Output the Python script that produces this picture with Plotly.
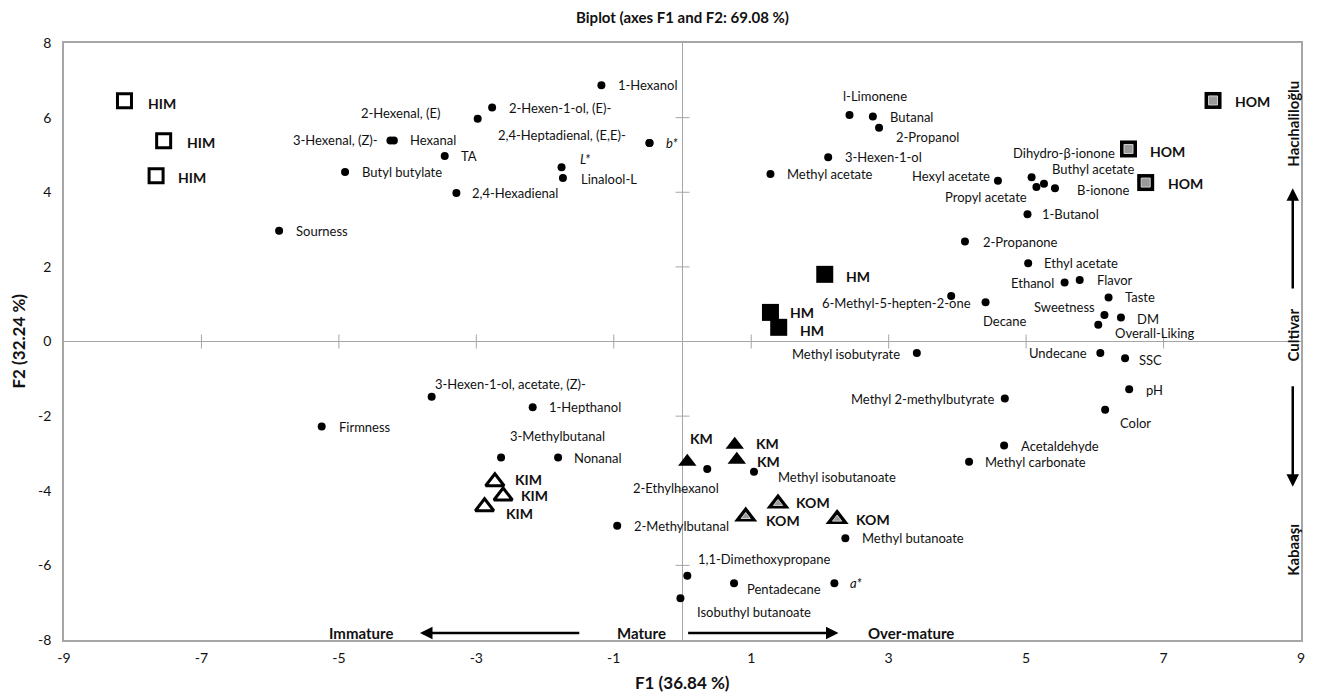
import plotly.graph_objects as go

# ---------------- data ----------------
var_names = [
    "Sourness", "Butyl butylate", "3-Hexenal, (Z)-", "Hexanal", "TA", "2,4-Hexadienal",
    "2-Hexenal, (E)", "2-Hexen-1-ol, (E)-", "1-Hexanol", "2,4-Heptadienal, (E,E)-",
    "<i>L*</i>", "Linalool-L", "<i>b*</i>", "l-Limonene", "Butanal", "2-Propanol",
    "3-Hexen-1-ol", "Methyl acetate", "Hexyl acetate", "Dihydro-β-ionone", "Propyl acetate",
    "Buthyl acetate", "B-ionone", "1-Butanol", "2-Propanone", "Ethyl acetate", "Ethanol",
    "Flavor", "Taste", "Sweetness", "DM", "Overall-Liking", "6-Methyl-5-hepten-2-one",
    "Decane", "Methyl isobutyrate", "Undecane", "SSC", "pH", "Color",
    "Methyl 2-methylbutyrate", "Acetaldehyde", "Methyl carbonate",
    "3-Hexen-1-ol, acetate, (Z)-", "1-Hepthanol", "Firmness", "3-Methylbutanal", "Nonanal",
    "2-Methylbutanal", "2-Ethylhexanol", "Methyl isobutanoate", "Methyl butanoate",
    "1,1-Dimethoxypropane", "Pentadecane", "<i>a*</i>", "Isobuthyl butanoate",
]
var_f1 = [
    -5.87, -4.91, -4.25, -4.20, -3.46, -3.29,
    -2.98, -2.77, -1.18, -0.48,
    -1.76, -1.74, -0.48, 2.43, 2.77, 2.86,
    2.12, 1.28, 4.59, 5.08, 5.15,
    5.26, 5.42, 5.02, 4.11, 5.03, 5.56,
    5.78, 6.20, 6.14, 6.38, 6.05, 3.91,
    4.41, 3.41, 6.08, 6.44, 6.50, 6.15,
    4.69, 4.68, 4.17,
    -3.65, -2.18, -5.25, -2.64, -1.81,
    -0.95, 0.36, 1.04, 2.37,
    0.07, 0.75, 2.21, -0.03,
]
var_f2 = [
    2.97, 4.54, 5.39, 5.39, 4.97, 3.98,
    5.97, 6.27, 6.87, 5.32,
    4.67, 4.38, 5.32, 6.07, 6.03, 5.73,
    4.94, 4.49, 4.31, 4.40, 4.14,
    4.23, 4.11, 3.41, 2.68, 2.10, 1.58,
    1.65, 1.18, 0.71, 0.64, 0.45, 1.22,
    1.05, -0.31, -0.31, -0.45, -1.28, -1.83,
    -1.53, -2.79, -3.22,
    -1.48, -1.76, -2.28, -3.11, -3.11,
    -4.94, -3.42, -3.49, -5.27,
    -6.28, -6.48, -6.48, -6.88,
]

him_f1 = [-8.12, -7.55, -7.66]
him_f2 = [6.45, 5.38, 4.44]
hm_f1 = [2.07, 1.28, 1.40]
hm_f2 = [1.80, 0.78, 0.38]
hom_f1 = [7.72, 6.49, 6.74]
hom_f2 = [6.46, 5.16, 4.26]
kim_f1 = [-2.73, -2.61, -2.88]
kim_f2 = [-3.76, -4.14, -4.43]
km_f1 = [0.07, 0.76, 0.79]
km_f2 = [-3.22, -2.77, -3.17]
kom_f1 = [1.39, 0.92, 2.25]
kom_f2 = [-4.34, -4.69, -4.76]

x_ticks = [-9, -7, -5, -3, -1, 1, 3, 5, 7, 9]
y_ticks = [-8, -6, -4, -2, 0, 2, 4, 6, 8]

# ---------------- label placement (anchor, dx px, dy px down) ----------------
var_label_pos = [
    ("r", 15, 0), ("r", 15, 0), ("l", -10, 0), ("r", 14, 0), ("r", 14, 0), ("r", 14, 0),
    ("l", -36, -6), ("r", 15, 0), ("r", 15, 0), ("l", -22, -8),
    ("r", 16, -8), ("r", 16, 1), ("r", 14, 0), ("c", 25, -19), ("r", 15, 0), ("r", 15, 9),
    ("r", 15, 0), ("r", 15, 0), ("l", -6, -5), ("c", 32, -24), ("l", -7, 10),
    ("r", 6, -15), ("r", 20, 2), ("r", 13, 0), ("r", 16, 0), ("r", 14, 0), ("l", -9, 0),
    ("r", 15, 0), ("r", 14, 0), ("l", -7, -8), ("r", 14, 1), ("r", 15, 8), ("l", 22, 7),
    ("r", -5, 19), ("l", -15, 1), ("l", -11, 0), ("r", 12, 2), ("r", 15, 1), ("r", 13, 13),
    ("l", -9, 0), ("r", 15, 0), ("r", 14, 0),
    ("r", 1, -13), ("r", 14, 0), ("r", 15, 0), ("r", 7, -22), ("r", 14, 0),
    ("r", 15, 0), ("l", 14, 19), ("r", 22, 5), ("r", 15, 0),
    ("r", 9, -17), ("r", 11, 6), ("r", 14, 0), ("r", 15, 14),
]
him_pos = [("r", 23, 3), ("r", 22, 2), ("r", 21, 2)]
hm_pos = [("r", 20, 2), ("r", 19, 0), ("r", 20, 3)]
hom_pos = [("r", 21, 1), ("r", 20, 3), ("r", 21, 1)]
kim_pos = [("r", 19, -2), ("r", 17, 0), ("r", 20, 7)]
km_pos = [("r", 2, -23), ("r", 20, -1), ("r", 19, 2)]
kom_pos = [("r", 17, -1), ("r", 19, 4), ("r", 18, 0)]

FONT = "Lato"
TXT = "#111111"
GRID = "#a6a6a6"
ANCH = {"r": "left", "l": "right", "c": "center"}

fig = go.Figure()

# crossing tick marks on the zero lines
fig.add_trace(go.Scatter(
    x=[v for v in x_ticks if v not in (-9, 9)], y=[0] * (len(x_ticks) - 2), mode="markers",
    marker=dict(symbol="line-ns", size=10, line=dict(color=GRID, width=1)),
    hoverinfo="skip", showlegend=False))
fig.add_trace(go.Scatter(
    x=[0] * (len(y_ticks) - 3), y=[v for v in y_ticks if v not in (-8, 0, 8)], mode="markers",
    marker=dict(symbol="line-ew", size=10, line=dict(color=GRID, width=1)),
    hoverinfo="skip", showlegend=False))

# variables
fig.add_trace(go.Scatter(x=var_f1, y=var_f2, mode="markers",
                         marker=dict(symbol="circle", size=8, color="black"),
                         showlegend=False))

# observations
fig.add_trace(go.Scatter(x=him_f1, y=him_f2, mode="markers", showlegend=False,
                         marker=dict(symbol="square-open", size=14, color="black",
                                     line=dict(color="black", width=3))))
fig.add_trace(go.Scatter(x=hm_f1, y=hm_f2, mode="markers", showlegend=False,
                         marker=dict(symbol="square", size=17, color="black")))
fig.add_trace(go.Scatter(x=hom_f1, y=hom_f2, mode="markers", showlegend=False,
                         marker=dict(symbol="square", size=17, color="black")))
fig.add_trace(go.Scatter(x=hom_f1, y=hom_f2, mode="markers", showlegend=False,
                         marker=dict(symbol="square", size=9, color="#9a9a9a",
                                     line=dict(color="#d0d0d0", width=1))))
fig.add_trace(go.Scatter(x=kim_f1, y=kim_f2, mode="markers", showlegend=False,
                         marker=dict(symbol="triangle-up-open", size=16, color="black",
                                     line=dict(color="black", width=3))))
fig.add_trace(go.Scatter(x=km_f1, y=km_f2, mode="markers", showlegend=False,
                         marker=dict(symbol="triangle-up", size=16, color="black")))
fig.add_trace(go.Scatter(x=kom_f1, y=kom_f2, mode="markers", showlegend=False,
                         marker=dict(symbol="triangle-up", size=20, color="black")))
fig.add_trace(go.Scatter(x=kom_f1, y=kom_f2, mode="markers", showlegend=False,
                         marker=dict(symbol="triangle-up", size=8, color="#9a9a9a",
                                     line=dict(color="#d0d0d0", width=1))))

annotations = []
for name, x, y, (a, dx, dy) in zip(var_names, var_f1, var_f2, var_label_pos):
    annotations.append(dict(x=x, y=y, text=name, showarrow=False, xanchor=ANCH[a],
                            yanchor="middle", xshift=dx, yshift=-dy,
                            font=dict(family=FONT, size=13, color=TXT)))

for lab, xs, ys, pos in [("HIM", him_f1, him_f2, him_pos), ("HM", hm_f1, hm_f2, hm_pos),
                         ("HOM", hom_f1, hom_f2, hom_pos), ("KIM", kim_f1, kim_f2, kim_pos),
                         ("KM", km_f1, km_f2, km_pos), ("KOM", kom_f1, kom_f2, kom_pos)]:
    for x, y, (a, dx, dy) in zip(xs, ys, pos):
        annotations.append(dict(x=x, y=y, text="<b>%s</b>" % lab, showarrow=False,
                                xanchor=ANCH[a], yanchor="middle", xshift=dx, yshift=-dy,
                                borderpad=0,
                                font=dict(family=FONT, size=14, color=TXT)))

# maturity / cultivar guides
bold = dict(family=FONT, size=15, color=TXT)
for txt, x in [("Immature", -4.68), ("Mature", -0.59), ("Over-mature", 3.32)]:
    annotations.append(dict(x=x, y=-7.81, text="<b>%s</b>" % txt, showarrow=False,
                            xanchor="center", yanchor="middle", font=bold))
for txt, y in [("Hacıhaliloğlu", 5.83), ("Cultivar", 0.18), ("Kabaaşı", -5.59)]:
    annotations.append(dict(x=8.88, y=y, text="<b>%s</b>" % txt, showarrow=False,
                            textangle=-90, xanchor="center", yanchor="middle", font=bold))
arrow = dict(showarrow=True, text="", axref="x", ayref="y", arrowhead=2, arrowsize=1,
             arrowwidth=2.5, arrowcolor="black", standoff=0, startstandoff=0)
annotations.append(dict(x=-3.82, y=-7.81, ax=-1.48, ay=-7.81, **arrow))
annotations.append(dict(x=2.27, y=-7.81, ax=0.06, ay=-7.81, **arrow))
annotations.append(dict(x=8.88, y=4.11, ax=8.88, ay=1.38, **arrow))
annotations.append(dict(x=8.88, y=-3.89, ax=8.88, ay=-1.16, **arrow))

# axis titles
annotations.append(dict(xref="paper", yref="paper", x=0.5, y=0, yshift=-42,
                        text="<b>F1 (36.84 %)</b>", showarrow=False, xanchor="center",
                        yanchor="middle", font=dict(family=FONT, size=17, color=TXT)))
annotations.append(dict(xref="paper", yref="paper", x=0, y=0.5, xshift=-46,
                        text="<b>F2 (32.24 %)</b>", showarrow=False, textangle=-90,
                        xanchor="center", yanchor="middle",
                        font=dict(family=FONT, size=17, color=TXT)))

fig.update_layout(
    width=1317, height=697,
    margin=dict(l=64, r=14, t=43, b=57),
    paper_bgcolor="white", plot_bgcolor="white",
    title=dict(text="<b>Biplot (axes F1 and F2: 69.08 %)</b>", x=0.5, xref="paper",
               xanchor="center", y=1 - 18 / 697, yanchor="middle",
               font=dict(family=FONT, size=15, color=TXT)),
    font=dict(family=FONT, size=14, color=TXT),
    annotations=annotations,
    showlegend=False,
)
fig.update_xaxes(range=[-9, 9], tickvals=x_ticks, ticktext=[str(v) for v in x_ticks],
                 ticks="", showgrid=False,
                 zeroline=True, zerolinecolor=GRID, zerolinewidth=1,
                 showline=True, mirror=True, linecolor=GRID, linewidth=1.5,
                 ticklabelstandoff=4, tickfont=dict(family=FONT, size=14, color=TXT))
fig.update_yaxes(range=[-8, 8], tickvals=y_ticks, ticktext=[str(v) for v in y_ticks],
                 ticks="", showgrid=False,
                 zeroline=True, zerolinecolor=GRID, zerolinewidth=1,
                 showline=True, mirror=True, linecolor=GRID, linewidth=1.5,
                 ticklabelstandoff=8, tickfont=dict(family=FONT, size=14, color=TXT))

fig.write_html("out.html", config={"displayModeBar": False},
               post_script="document.body.style.margin='0px';")
